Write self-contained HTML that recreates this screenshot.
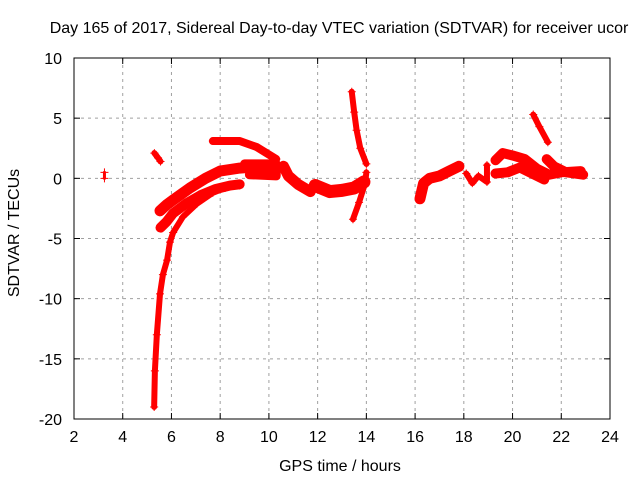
<!DOCTYPE html>
<html><head><meta charset="utf-8"><style>
body{margin:0;background:#fff}
svg{display:block;font-family:"Liberation Sans",sans-serif}
</style></head><body>
<svg id="chart" width="640" height="480" viewBox="0 0 640 480">
<text x="339" y="33" text-anchor="middle" font-size="16">Day 165 of 2017, Sidereal Day-to-day VTEC variation (SDTVAR) for receiver ucor</text>
<text transform="translate(19,233) rotate(-90)" text-anchor="middle" font-size="16">SDTVAR / TECUs</text>
<text x="340" y="471" text-anchor="middle" font-size="16">GPS time / hours</text>
<g id="grid"></g>
<g id="ticks"></g>
<g id="marks"></g>
<rect x="74" y="58" width="536" height="361" fill="none" stroke="#000" stroke-width="1"/>
</svg>
<script>
const xTicks=[2,4,6,8,10,12,14,16,18,20,22,24];
const yTicks=[10,5,0,-5,-10,-15,-20];
const trackIsolated=[[3.25,0.0],[3.25,0.5]];
const trackEarly=[[5.3,2.1],[5.45,1.7],[5.55,1.4]];
const trackMain=[[5.29,-19],[5.32,-16],[5.4,-13],[5.53,-9.6],[5.65,-8],[5.82,-6.8],[5.94,-5.3],[6.07,-4.5],[6.47,-3.2],[7.05,-2.1],[7.7,-1.2],[8.2,-0.8],[8.8,-0.6]];
const trackLowerArc=[[5.55,-4.1],[5.8,-3.6],[6.07,-2.9],[6.6,-2.1],[7.2,-1.4],[7.8,-0.9],[8.4,-0.6],[8.8,-0.5]];
const trackUpperArc=[[5.53,-2.7],[5.8,-2.2],[6.07,-1.8],[6.76,-0.8],[7.4,0.0],[7.99,0.6],[8.8,0.85],[9.5,0.95],[10.2,0.9]];
const trackTop=[[7.7,3.1],[8.8,3.1],[9.5,2.6],[10.3,1.6]];
const trackZ=[[9.0,1.2],[10.3,1.2],[10.3,0.2],[9.2,0.3]];
const trackMid=[[10.6,1.0],[10.8,0.2],[11.2,-0.5],[11.7,-1.1]];
const trackNoon=[[11.9,-0.6],[12.5,-1.1],[13.0,-1.0],[13.5,-0.8],[13.9,-0.3]];
const trackSpike=[[13.4,7.2],[13.5,5.5],[13.6,4.0],[13.75,2.5],[14.0,1.2]];
const trackHook=[[13.45,-3.4],[13.7,-2.0],[13.95,-0.4],[14.0,0.5]];
const trackEvening=[[16.2,-1.7],[16.35,-0.4],[16.6,0.0],[17.0,0.2],[17.4,0.6],[17.8,1.0]];
const trackSparse=[[18.1,0.4],[18.35,-0.4],[18.6,0.2],[18.95,-0.3],[18.95,1.1]];
const trackLoopUpper=[[19.3,1.5],[19.6,2.1],[20.0,1.9],[20.5,1.6],[21.0,0.8],[21.5,0.3],[22.0,0.5],[22.8,0.6]];
const trackLoopLower=[[19.3,0.4],[19.8,0.5],[20.3,0.9],[20.8,0.4],[21.3,-0.1]];
const trackLate=[[21.4,1.6],[21.7,1.0],[22.2,0.5],[22.9,0.3]];
const trackSpike21=[[20.85,5.3],[21.1,4.3],[21.45,3.0]];
const tracks=[[trackIsolated,3],[trackEarly,6],[trackMain,6],[trackLowerArc,10],[trackUpperArc,11],[trackTop,8],[trackZ,9],[trackMid,11],[trackNoon,13],[trackSpike,6],[trackHook,6],[trackEvening,11],[trackSparse,6],[trackLoopUpper,10],[trackLoopLower,10],[trackLate,10],[trackSpike21,6]];
const NS="http://www.w3.org/2000/svg";
function sx(v){return 74+(v-2)*536/22;}
function sy(v){return 58+(10-v)*361/30;}
function mk(t,a,parent){const e=document.createElementNS(NS,t);for(const k in a)e.setAttribute(k,a[k]);parent.appendChild(e);return e;}
const grid=document.getElementById('grid'),ticks=document.getElementById('ticks'),marks=document.getElementById('marks');
xTicks.forEach(v=>{const x=sx(v);
 if(v>2&&v<24){const g=mk('line',{x1:x,x2:x,y1:58,y2:419,stroke:'#a0a0a0','stroke-dasharray':'3,4','stroke-width':1},grid);
 
 }
 mk('line',{x1:x,x2:x,y1:419,y2:413,stroke:'#000'},ticks);
 mk('line',{x1:x,x2:x,y1:58,y2:64,stroke:'#000'},ticks);
 const t=mk('text',{x:x,y:442,'text-anchor':'middle','font-size':'16'},ticks);t.textContent=v;
 
 
});
yTicks.forEach(v=>{const y=sy(v);
 if(v<10&&v>-20){const g=mk('line',{x1:74,x2:610,y1:y,y2:y,stroke:'#a0a0a0','stroke-dasharray':'3,4','stroke-width':1},grid);
 
 }
 mk('line',{x1:74,x2:80,y1:y,y2:y,stroke:'#000'},ticks);
 mk('line',{x1:610,x2:604,y1:y,y2:y,stroke:'#000'},ticks);
 const t=mk('text',{x:62,y:y+6,'text-anchor':'end','font-size':'16'},ticks);t.textContent=v;
 
 
});
tracks.forEach(([pts,w])=>{
 const p=mk('polyline',{points:pts.map(q=>sx(q[0])+','+sy(q[1])).join(' '),fill:'none',stroke:'#f00','stroke-width':w,'stroke-linejoin':'round','stroke-linecap':'round'},marks);
 
 
 pts.forEach(q=>{const x=sx(q[0]),y=sy(q[1]);
  const m=mk('path',{d:`M${x-4},${y}H${x+4}M${x},${y-4}V${y+4}`,stroke:'#f00','stroke-width':1},marks);
  
  
 });
});
</script>
</body></html>
